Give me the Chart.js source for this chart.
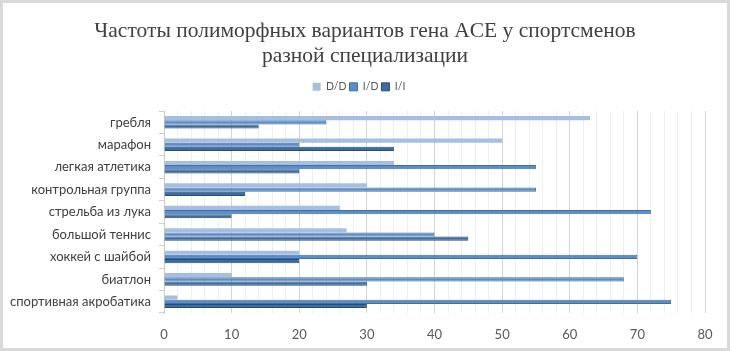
<!DOCTYPE html>
<html>
<head>
<meta charset="utf-8">
<script src="https://cdn.jsdelivr.net/npm/chart.js@4"></script>
<style>
html,body{margin:0;padding:0;background:#fff;}
#wrap{width:730px;height:351px;position:relative;}
</style>
</head>
<body>
<div id="wrap"><canvas id="c" width="730" height="351"></canvas></div>
<script>
const categories = ["гребля","марафон","легкая атлетика","контрольная группа","стрельба из лука","большой теннис","хоккей с шайбой","биатлон","спортивная акробатика"];
const seriesDD = [63, 50, 34, 30, 26, 27, 20, 10, 2];
const seriesID = [24, 20, 55, 55, 72, 40, 70, 68, 75];
const seriesII = [14, 34, 20, 12, 10, 45, 20, 30, 30];
const xTicks = [0, 10, 20, 30, 40, 50, 60, 70, 80];
const titleLines = ["Частоты полиморфных вариантов гена ACE у спортсменов", "разной специализации"];

const framePlugin = {
  id: 'frame',
  afterInit(chart) {
    const lg = chart.legend;
    if (lg && !lg._patched) {
      const f = lg.fit.bind(lg);
      lg.fit = function () { f(); this.height += 9; };
      lg._patched = true;
    }
  },
  afterLayout(chart) {
    if (chart.titleBlock) { const b = chart.titleBlock; b.left = 0; b.right = chart.width; b.width = chart.width; }
    if (chart.legend) { const b = chart.legend; b.left = 0; b.right = chart.width - 12; b.width = chart.width - 12; }
  },
  beforeDraw(chart) {
    const ctx = chart.ctx;
    ctx.save();
    ctx.fillStyle = '#ffffff';
    ctx.fillRect(0, 0, chart.width, chart.height);
    ctx.strokeStyle = '#d9d9d9';
    ctx.lineWidth = 3;
    ctx.strokeRect(1.5, 1.5, chart.width - 3, chart.height - 3);
    ctx.restore();
  }
};

new Chart(document.getElementById('c'), {
  type: 'bar',
  data: {
    labels: categories,
    datasets: [
      {label: 'D/D', data: seriesDD, backgroundColor: '#a7bfdf', borderColor: '#9ab4d8', borderWidth: 0, categoryPercentage: 0.56, barPercentage: 1.0},
      {label: 'I/D', data: seriesID, backgroundColor: '#5b8ec9', borderColor: '#3f6fa6', borderWidth: 1, categoryPercentage: 0.56, barPercentage: 1.0},
      {label: 'I/I', data: seriesII, backgroundColor: '#3e6c9f', borderColor: '#244d7a', borderWidth: 1, categoryPercentage: 0.56, barPercentage: 1.0}
    ]
  },
  options: {
    indexAxis: 'y',
    responsive: false,
    animation: false,
    devicePixelRatio: 1,
    layout: {padding: {left: 8, right: 25, top: 6, bottom: 0}},
    plugins: {
      title: {
        display: true,
        text: titleLines,
        color: '#404040',
        font: {family: 'Liberation Serif', size: 21.5, weight: 'normal', lineHeight: 1.2},
        padding: {top: 12, bottom: 9}
      },
      legend: {
        display: true,
        position: 'top',
        labels: {
          boxWidth: 8, boxHeight: 8, padding: 3,
          color: '#595959',
          font: {family: 'Lato', size: 10.5}
        }
      },
      tooltip: {enabled: false}
    },
    scales: {
      x: {
        min: 0, max: 80,
        ticks: {
          stepSize: 2,
          autoSkip: false,
          maxRotation: 0,
          color: '#595959',
          font: {family: 'Lato', size: 13},
          padding: 14,
          callback: (v) => xTicks.includes(v) ? String(v) : ''
        },
        grid: {
          color: (ctx) => (ctx.tick && ctx.tick.value % 10 === 0) ? '#d4d4d4' : '#eeeeee',
          lineWidth: 1,
          drawTicks: false
        },
        border: {display: false},
        afterFit: (scale) => { scale.height = 38; }
      },
      y: {
        ticks: {
          color: '#404040',
          font: {family: 'Lato', size: 13},
          padding: 8
        },
        grid: {
          offset: true,
          drawOnChartArea: false,
          drawTicks: true,
          tickLength: 5,
          color: '#d0d0d0'
        },
        border: {display: true, color: '#c8c8c8'},
        afterFit: (scale) => { scale.width = 156; }
      }
    }
  },
  plugins: [framePlugin]
});
</script>
</body>
</html>
